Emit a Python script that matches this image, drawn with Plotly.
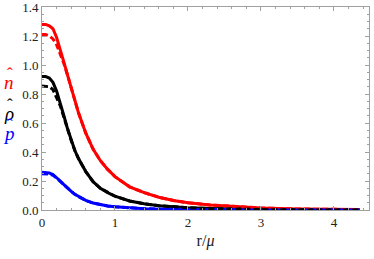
import plotly.graph_objects as go

r = [0, 0.05, 0.1, 0.15, 0.2, 0.25, 0.3, 0.35, 0.4, 0.45, 0.5, 0.6, 0.7, 0.8, 0.9,
     1.0, 1.2, 1.4, 1.6, 1.8, 2.0, 2.3, 2.6, 3.0, 3.5, 4.0, 4.35]

n_solid = [1.28, 1.28, 1.27, 1.25, 1.19, 1.11, 1.02, 0.93, 0.84, 0.75, 0.67, 0.53, 0.42, 0.34, 0.28,
           0.23, 0.16, 0.12, 0.088, 0.066, 0.05, 0.035, 0.024, 0.014, 0.007, 0.004, 0.003]
rho_solid = [0.92, 0.92, 0.91, 0.88, 0.82, 0.74, 0.65, 0.56, 0.48, 0.41, 0.355, 0.265, 0.195, 0.15, 0.12,
             0.095, 0.062, 0.043, 0.03, 0.022, 0.016, 0.01, 0.006, 0.003, 0.001, 0.0005, 0.0003]
p_solid = [0.26, 0.26, 0.255, 0.245, 0.225, 0.2, 0.175, 0.15, 0.128, 0.108, 0.092, 0.066, 0.048, 0.036, 0.028,
           0.022, 0.014, 0.009, 0.006, 0.004, 0.003, 0.002, 0.001, 0.0005, 0.0002, 0.0001, 0.0001]

n_dash = [1.21, 1.21, 1.20, 1.18, 1.14, 1.08, 1.01, 0.93, 0.84, 0.75, 0.67, 0.53, 0.42, 0.34, 0.28,
          0.23, 0.16, 0.12, 0.088, 0.066, 0.05, 0.035, 0.024, 0.014, 0.007, 0.004, 0.003]
rho_dash = [0.855, 0.855, 0.85, 0.83, 0.78, 0.72, 0.64, 0.555, 0.48, 0.41, 0.355, 0.265, 0.195, 0.15, 0.12,
            0.095, 0.062, 0.043, 0.03, 0.022, 0.016, 0.01, 0.006, 0.003, 0.001, 0.0005, 0.0003]
p_dash = [0.25, 0.25, 0.248, 0.24, 0.222, 0.198, 0.174, 0.15, 0.128, 0.108, 0.092, 0.066, 0.048, 0.036, 0.028,
          0.022, 0.014, 0.009, 0.006, 0.004, 0.003, 0.002, 0.001, 0.0005, 0.0002, 0.0001, 0.0001]

side_labels = ["n", "\u03c1", "p"]

RED, BLACK, BLUE = "#ff0000", "#000000", "#0000ff"
W = 3

fig = go.Figure()
for y, c in [(n_solid, RED), (rho_solid, BLACK), (p_solid, BLUE)]:
    fig.add_trace(go.Scatter(x=r, y=y, mode="lines", line=dict(color=c, width=W),
                             showlegend=False, hoverinfo="skip"))
for y, c in [(n_dash, RED), (p_dash, BLUE), (rho_dash, BLACK)]:
    fig.add_trace(go.Scatter(x=r, y=y, mode="lines",
                             line=dict(color=c, width=W, dash="6px,3px"),
                             showlegend=False, hoverinfo="skip"))

serif = "Liberation Serif"
axis_common = dict(showline=True, linecolor="#a0a0a0", linewidth=1, mirror="ticks",
                   ticks="inside", ticklen=4, tickcolor="#a0a0a0", showgrid=False,
                   zeroline=False, automargin=False, ticklabeloverflow="allow",
                   tickfont=dict(family=serif, size=13, color="#222222"))

fig.update_xaxes(range=[0, 4.48], tickvals=[0, 1, 2, 3, 4],
                 minor=dict(dtick=0.2, tick0=0, ticks="inside", ticklen=2, tickcolor="#a0a0a0"),
                 title=dict(text="r/<i>μ</i>", font=dict(family=serif, size=16, color="#222222"),
                            standoff=6),
                 **axis_common)
fig.update_yaxes(range=[0, 1.4], tickvals=[0, 0.2, 0.4, 0.6, 0.8, 1.0, 1.2, 1.4], tickformat=".1f",
                 minor=dict(dtick=0.05, tick0=0, ticks="inside", ticklen=2, tickcolor="#a0a0a0"),
                 **axis_common)

for txt, yp, c in zip(side_labels, [0.63, 0.475, 0.375], [RED, BLACK, BLUE]):
    fig.add_annotation(text=f"<i>{txt}</i>", x=0, y=yp, xref="paper", yref="paper",
                       xshift=-33, showarrow=False, font=dict(family=serif, size=19, color=c),
                       xanchor="center", yanchor="middle")
    fig.add_annotation(text="\u02c6", x=0, y=yp, xref="paper", yref="paper",
                       xshift=-32, yshift=9, showarrow=False, font=dict(family=serif, size=17, color=c),
                       xanchor="center", yanchor="middle")

fig.update_layout(width=374, height=259, margin=dict(l=42, r=5, t=7, b=49),
                  plot_bgcolor="white", paper_bgcolor="white")

fig.write_html("out.html", config={"displayModeBar": False},
               post_script="document.body.style.margin='0';")
